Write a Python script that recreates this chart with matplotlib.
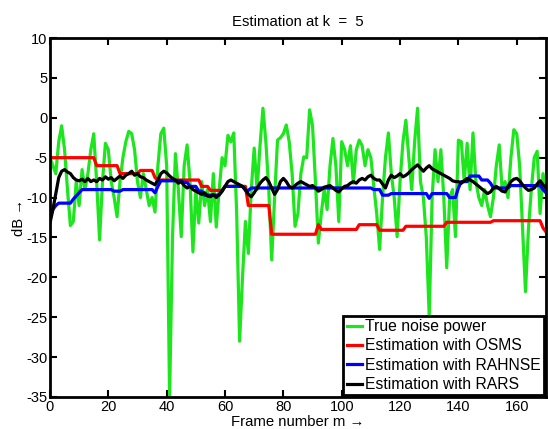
import numpy as np
import matplotlib.pyplot as plt

plt.rcParams['font.family'] = ['Liberation Sans', 'DejaVu Sans']
plt.rcParams['axes.unicode_minus'] = False

frames = np.arange(0, 171)

true_noise = [
    -5, -6, -7, -3, -1, -4, -9, -13.5, -13, -8,
    -11, -6.5, -9, -7, -4, -2, -8, -15.3, -8, -3.2,
    -4, -8, -10, -12.4, -8, -5, -3, -1.7, -2, -4,
    -8, -10, -7, -9, -11, -10, -11.8, -6, -2, -1.3,
    -6, -35, -15, -4.5, -9, -14.9, -6, -3.4, -8, -16.8,
    -9, -13.2, -8, -11, -9, -13, -7, -13.7, -9, -5,
    -6, -2.2, -3, -1.9, -12, -28, -20, -13, -17, -9,
    -3.8, -9, -3.5, 1.2, -3, -9, -17.8, -10, -2.8, -2.5,
    -2, -0.9, -3, -7, -13.6, -12, -7, -4.9, -5, 1,
    -1, -8, -15.7, -12, -9, -11.5, -6, -2.6, -6, -13,
    -3, -4, -6, -3.5, -8.2, -4, -2.8, -3.5, -6, -4,
    -5, -8.6, -12, -16.5, -10, -5, -1.9, -7, -10, -14.9,
    -8, -3, -0.3, -5, -9, -3, 1.2, -8, -10, -15,
    -24.9, -10, -4, -8, -4, -10, -18.8, -10, -9, -14.9,
    -2.8, -3, -8, -3.2, -9, -1.9, -8, -10, -11, -9,
    -11, -12.4, -10, -6, -3.4, -9, -8, -10, -5, -1.5,
    -2, -6, -14, -21.8, -14, -9, -5, -4.2, -12, -7,
    -9,
]

osms = [
    -5.0, -5.0, -5.0, -5.0, -5.0, -5.0, -5.0, -5.0, -5.0, -5.0,
    -5.0, -5.0, -5.0, -5.0, -5.0, -5.0, -6.0, -6.0, -6.0, -6.0,
    -6.0, -6.0, -6.0, -6.0, -7.0, -7.0, -7.0, -7.0, -7.0, -7.0,
    -7.0, -6.6, -6.6, -6.6, -6.6, -6.6, -7.5, -7.8, -7.8, -7.8,
    -7.8, -7.8, -7.8, -7.8, -7.8, -7.8, -7.8, -7.8, -7.8, -7.8,
    -7.8, -7.8, -8.6, -8.6, -8.6, -9.1, -9.1, -9.1, -9.1, -9.1,
    -8.6, -8.6, -8.6, -8.6, -8.6, -8.6, -8.6, -8.6, -11.0, -11.0,
    -11.0, -11.0, -11.0, -11.0, -11.0, -11.0, -14.6, -14.6, -14.6, -14.6,
    -14.6, -14.6, -14.6, -14.6, -14.6, -14.6, -14.6, -14.6, -14.6, -14.6,
    -14.6, -14.6, -13.4, -14.0, -14.0, -14.0, -14.0, -14.0, -14.0, -14.0,
    -14.0, -14.0, -14.0, -14.0, -14.0, -14.0, -13.4, -13.4, -13.4, -13.4,
    -13.4, -13.4, -13.4, -14.1, -14.1, -14.1, -14.1, -14.1, -14.1, -14.1,
    -14.1, -14.1, -13.6, -13.6, -13.6, -13.6, -13.6, -13.6, -13.6, -13.6,
    -13.6, -13.6, -13.6, -13.6, -13.6, -13.6, -13.1, -13.1, -13.1, -13.1,
    -13.1, -13.1, -13.1, -13.1, -13.1, -13.1, -13.1, -13.1, -13.1, -13.1,
    -13.1, -13.1, -12.9, -12.9, -12.9, -12.9, -12.9, -12.9, -12.9, -12.9,
    -12.9, -12.9, -12.9, -12.9, -12.9, -12.9, -12.9, -12.9, -12.9, -13.8,
    -14.3,
]

rahnse = [
    -12.5, -11.5, -11.0, -10.7, -10.7, -10.7, -10.7, -10.7, -10.2, -9.8,
    -9.4, -9.0, -9.0, -9.0, -9.0, -9.0, -9.0, -9.0, -9.0, -9.0,
    -9.0, -9.0, -9.2, -9.2, -9.2, -9.0, -9.0, -9.0, -9.0, -9.0,
    -9.0, -9.0, -9.0, -9.0, -9.0, -9.0, -9.4, -8.6, -7.9, -7.9,
    -7.9, -7.9, -7.9, -7.9, -7.9, -7.9, -8.1, -8.1, -8.6, -8.6,
    -8.6, -9.2, -9.2, -9.7, -9.7, -9.7, -9.7, -9.7, -9.7, -9.2,
    -8.6, -8.6, -8.6, -8.6, -8.6, -8.6, -8.6, -9.1, -9.1, -8.8,
    -8.8, -8.8, -8.8, -8.8, -8.8, -8.8, -8.8, -8.8, -8.8, -8.8,
    -8.8, -8.8, -8.8, -8.8, -8.8, -8.8, -8.8, -8.8, -8.8, -8.8,
    -8.8, -8.8, -8.8, -8.8, -8.8, -8.8, -8.8, -8.8, -8.8, -8.8,
    -8.8, -8.8, -8.8, -8.8, -8.8, -8.8, -8.8, -8.8, -8.8, -8.8,
    -8.8, -9.0, -9.0, -9.0, -9.7, -9.7, -9.7, -9.5, -9.5, -9.5,
    -9.5, -9.5, -9.5, -9.5, -9.5, -9.5, -9.5, -9.5, -9.5, -9.5,
    -10.1, -9.5, -9.5, -9.5, -9.5, -9.5, -9.5, -10.0, -10.0, -10.0,
    -8.8, -8.0, -8.0, -8.0, -7.3, -7.3, -7.3, -7.3, -7.8, -7.8,
    -7.8, -8.2, -8.8, -8.8, -8.8, -8.8, -8.8, -8.8, -8.5, -8.5,
    -8.5, -8.5, -8.5, -8.5, -8.5, -8.5, -8.5, -8.5, -8.5, -9.0,
    -9.4,
]

rars = [
    -13.2, -11.5, -9.5, -7.5, -6.7, -6.5, -6.8, -7.0, -7.5, -7.8,
    -7.9, -7.7, -8.0, -7.6, -8.0, -7.8, -8.0, -7.6, -7.8, -7.4,
    -7.7, -7.5, -7.9, -7.6, -7.3, -7.6, -7.2, -7.0, -6.7, -7.2,
    -7.0, -7.4, -7.5, -7.8, -8.0, -8.2, -8.4, -7.8, -7.0, -6.7,
    -6.9, -7.3, -7.6, -7.8, -8.2, -8.0, -8.5, -8.8, -8.6, -9.0,
    -9.2, -9.4, -9.6, -9.4, -9.8, -9.9, -9.6, -10.0, -9.6, -9.2,
    -8.6, -8.0, -7.8, -8.0, -8.2, -8.4, -8.6, -9.0, -9.6, -9.9,
    -9.4, -8.8, -8.2, -7.8, -7.5, -8.0, -8.8, -9.6, -9.0, -8.0,
    -7.6, -8.0, -8.6, -8.8, -8.5, -8.2, -8.0, -8.2, -8.4, -8.6,
    -8.5, -8.8, -9.2, -9.0, -8.7, -8.6, -8.5, -8.8, -9.1, -9.3,
    -8.9, -8.6, -8.5, -8.2, -8.0, -8.2, -7.8, -7.6, -7.8, -7.4,
    -7.2, -7.6, -7.8, -7.8, -8.3, -8.8, -7.8, -7.2, -7.5, -7.3,
    -7.0, -7.4, -7.2, -6.9, -6.5, -6.2, -5.9, -6.3, -6.7, -6.3,
    -6.0, -6.4, -6.6, -6.8, -7.0, -7.2, -7.4, -7.6, -7.9, -8.0,
    -8.0, -8.2, -7.9, -7.6, -7.8, -8.0, -8.3, -8.6, -8.9, -9.2,
    -9.5, -9.3, -8.8, -8.6, -8.9, -9.2, -9.3, -8.6, -8.0, -7.7,
    -7.6, -7.9, -8.4, -8.8, -9.1, -9.0, -8.8, -8.3, -7.9, -8.4,
    -8.8,
]

labels = ['True noise power', 'Estimation with OSMS',
          'Estimation with RAHNSE', 'Estimation with RARS']

fig = plt.figure(figsize=(5.48, 4.29), dpi=100)
ax = fig.add_axes([0.0912, 0.0746, 0.905, 0.8368])

lw = 2.3
ax.plot(frames, true_noise, color='#1ee61e', lw=lw, label=labels[0])
ax.plot(frames, osms, color='#ff0000', lw=lw, label=labels[1])
ax.plot(frames, rahnse, color='#0000ff', lw=lw, label=labels[2])
ax.plot(frames, rars, color='#000000', lw=lw, label=labels[3])

ax.set_xlim(0, 170)
ax.set_ylim(-35, 10)
ax.set_xticks(np.arange(0, 161, 20))
ax.set_yticks(np.arange(-35, 11, 5))
ax.tick_params(direction='in', length=5, width=1.5, top=True, right=True,
               labelsize=10.5, pad=2)
for s in ax.spines.values():
    s.set_linewidth(2)

ax.set_title('Estimation at k  =  5', fontsize=10.7, pad=9)
ax.set_xlabel('Frame number m \u2192', fontsize=10.7, labelpad=1)
ax.set_ylabel('dB \u2192', fontsize=10.7, labelpad=0)

leg = ax.legend(loc='lower right', fontsize=11.3, handlelength=1.0,
                handletextpad=0.2, borderpad=0.2, labelspacing=0.28,
                fancybox=False, framealpha=1, borderaxespad=0.1)
leg.get_frame().set_edgecolor('black')
leg.get_frame().set_linewidth(2)

fig.savefig('out.png', dpi=100)
